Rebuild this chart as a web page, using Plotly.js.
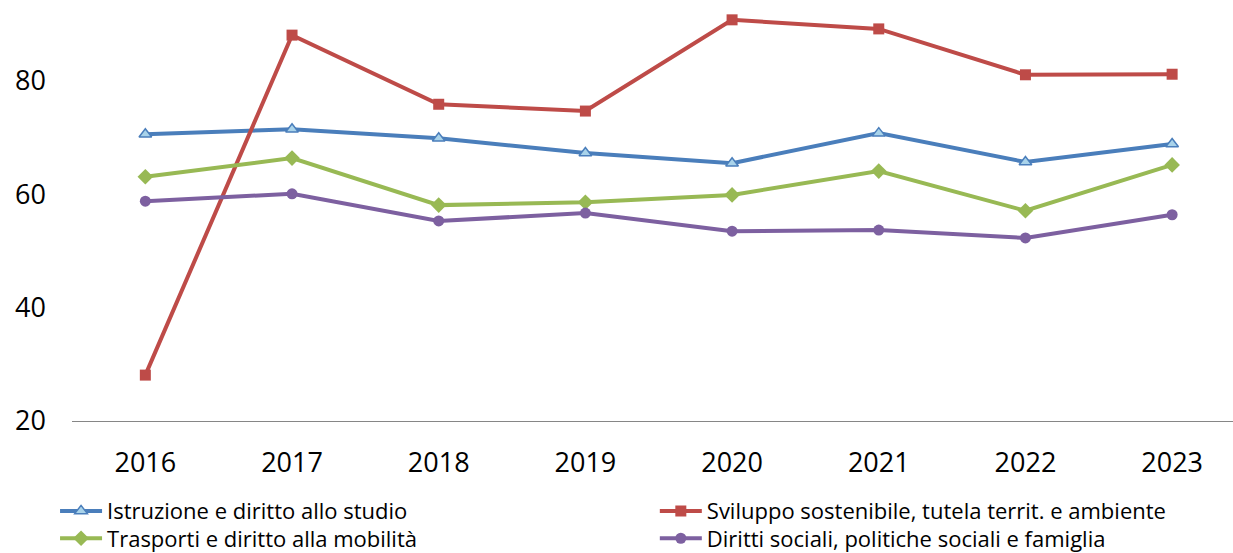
<!DOCTYPE html>
<html>
<head>
<meta charset="utf-8">
<script src="https://cdn.plot.ly/plotly-3.0.1.min.js"></script>
<style>html,body{margin:0;padding:0;background:#fff}#chart{width:1233px;height:553px}</style>
</head>
<body>
<div id="chart"></div>
<script>
const years = ["2016","2017","2018","2019","2020","2021","2022","2023"];
const seriesNames = [
  "Istruzione e diritto allo studio",
  "Sviluppo sostenibile, tutela territ. e ambiente",
  "Trasporti e diritto alla mobilità",
  "Diritti sociali, politiche sociali e famiglia"
];
const istruzione = [70.6, 71.5, 69.9, 67.3, 65.5, 70.8, 65.7, 68.9];
const sviluppo   = [28.1, 88.1, 75.9, 74.7, 90.8, 89.2, 81.1, 81.2];
const trasporti  = [63.1, 66.4, 58.1, 58.6, 59.9, 64.1, 57.1, 65.2];
const diritti    = [58.8, 60.1, 55.3, 56.7, 53.5, 53.7, 52.3, 56.4];
const yTicks = [20, 40, 60, 80];

const styles = [
  {color:"#4A7EBB", symbol:"triangle-up", fill:"#A9D3EA", size:11, legend:"legend",  lx:-0.0146, ly:-0.214},
  {color:"#BE4B48", symbol:"square",      fill:"#BE4B48", size:11, legend:"legend2", lx:0.502,   ly:-0.214},
  {color:"#98B954", symbol:"diamond",     fill:"#98B954", size:12, legend:"legend3", lx:-0.0146, ly:-0.279},
  {color:"#7D60A0", symbol:"circle",      fill:"#7D60A0", size:11, legend:"legend4", lx:0.502,   ly:-0.279}
];
const data = [istruzione, sviluppo, trasporti, diritti].map((vals, i) => ({
  type: "scatter",
  mode: "lines+markers",
  name: seriesNames[i],
  legend: styles[i].legend,
  x: years.map((_, k) => k),
  y: vals,
  line: {color: styles[i].color, width: 4},
  marker: {symbol: styles[i].symbol, size: styles[i].size, color: styles[i].fill,
           line: {color: styles[i].color, width: i === 0 ? 1.5 : 0}},
  cliponaxis: false
}));

const layout = {
  width: 1233, height: 553,
  margin: {l: 72, r: 0, t: 0, b: 132, autoexpand: false},
  paper_bgcolor: "#fff", plot_bgcolor: "#fff",
  font: {family: "'Open Sans', Lato, sans-serif", color: "#000"},
  showlegend: true,
  xaxis: {
    range: [-0.5, 7.415], tickvals: years.map((_, k) => k), ticktext: years,
    showgrid: false, zeroline: false, showline: true, linecolor: "#868686", linewidth: 1,
    ticks: "", tickfont: {size: 27}, ticklabelstandoff: 18, fixedrange: true
  },
  yaxis: {
    range: [20, 94.3], tickvals: yTicks, ticktext: yTicks.map(String),
    showgrid: false, zeroline: false, showline: false, ticks: "",
    tickfont: {size: 27}, ticklabelstandoff: 25, fixedrange: true
  }
};
styles.forEach(s => {
  layout[s.legend] = {orientation: "v", x: s.lx, xanchor: "left", y: s.ly, yanchor: "middle",
    font: {size: 22}, itemwidth: 42, bgcolor: "rgba(0,0,0,0)"};
});
Plotly.newPlot("chart", data, layout, {displayModeBar: false, staticPlot: true});
</script>
</body>
</html>
